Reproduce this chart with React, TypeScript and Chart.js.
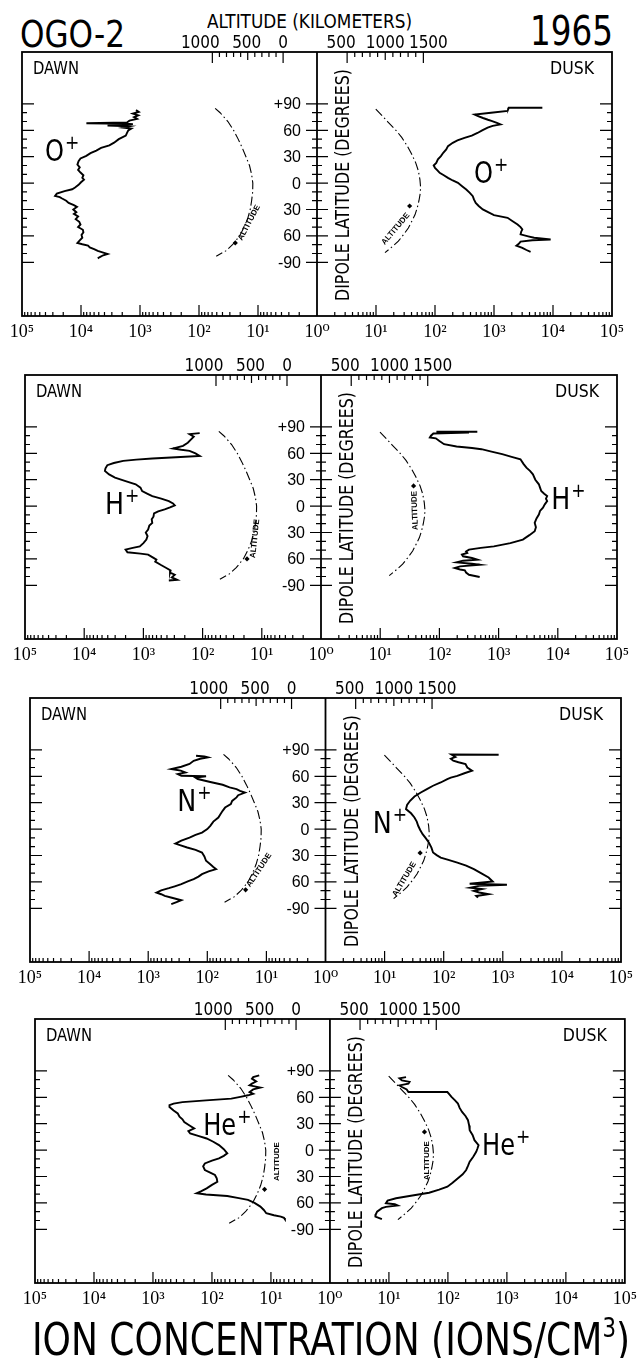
import React, { useEffect, useLayoutEffect, useRef } from "react";
import { Chart, registerables } from "chart.js";

Chart.register(...registerables);

const NARROW = '"Liberation Sans Narrow", "DejaVu Sans Condensed", "Liberation Sans", sans-serif';
const SANS = '"Liberation Sans", "DejaVu Sans", sans-serif';
const SERIF = '"Liberation Serif", "DejaVu Serif", serif';

// ---------- axis ticks / labels ----------
const decadeValues = [1, 10, 100, 1000, 10000, 100000];
const decadeLabels = ["10⁰", "10¹", "10²", "10³", "10⁴", "10⁵"];
const latTickValues = [90, 60, 30, 0, -30, -60, -90];
const latTickLabels = ["+90", "60", "30", "0", "30", "60", "-90"];
const dawnAltTickValues = [1000, 500, 0];
const dawnAltTickLabels = ["1000", "500", "0"];
const duskAltTickValues = [500, 1000, 1500];
const duskAltTickLabels = ["500", "1000", "1500"];

// ---------- O+ ----------
const oDawnLat = [83, 81, 79, 77, 75, 73, 71, 69, 68, 67.5, 67, 66, 65.5, 64.5, 63, 62, 60, 57, 54, 50, 46, 43, 40, 37, 34, 31, 28, 25, 21, 18, 15, 12, 9, 6, 4, 1, -2, -5, -7, -9, -12, -14.5, -16, -17.5, -20, -22.5, -25, -27, -30, -33, -35, -38, -41, -44, -47, -50, -53, -56, -59, -62, -65, -68, -69.5, -71, -73, -75, -77, -79, -80.5, -82, -84, -85.5];
const oDawnConc = [1170, 1050, 1320, 1070, 1260, 1120, 1510, 1660, 8100, 1780, 1320, 2000, 3550, 1510, 1900, 1410, 1580, 1660, 1740, 2290, 2750, 3310, 4570, 5500, 6900, 8130, 10200, 11000, 11500, 10500, 11200, 10200, 9100, 9500, 8900, 10000, 11000, 12600, 14100, 19000, 25700, 27500, 22900, 20900, 17800, 16200, 13200, 11700, 13500, 12000, 13200, 11200, 12300, 10700, 10200, 11200, 9300, 9100, 9800, 9500, 10500, 11500, 9500, 7600, 7100, 6000, 5200, 4200, 3550, 4200, 4800, 5200];
const oDuskLat = [85.6, 85.6, 84, 82, 80, 78, 76.5, 74, 72, 70.5, 68.5, 66.7, 65, 63, 60, 57, 54, 51.5, 48.5, 45.8, 42, 38.3, 34.5, 30.7, 27, 23, 20, 17.4, 14.5, 11.7, 9, 6, 3, 0.3, -3.5, -7.2, -11, -14.8, -18.5, -22.4, -26, -29.9, -33, -36.4, -39.4, -43, -47, -50, -52.6, -55.5, -58.3, -60.5, -62.1, -64, -65, -66.5, -69, -71, -73.5, -76, -78];
const oDuskConc = [6600, 1780, 1740, 1700, 890, 470, 525, 650, 790, 930, 1120, 1290, 950, 780, 630, 525, 420, 316, 240, 200, 166, 155, 138, 126, 112, 105, 95, 100, 110, 120, 141, 166, 200, 245, 288, 339, 389, 437, 457, 490, 550, 646, 794, 1000, 1700, 2040, 2510, 2820, 3020, 2880, 2820, 3800, 4790, 9120, 4470, 2820, 2630, 2400, 3020, 3550, 4170];

// ---------- H+ ----------
const hDawnLat = [83, 81.8, 79, 76.1, 72, 68.5, 65.5, 64, 62.8, 60, 57.1, 55.5, 54.1, 52.8, 51.4, 49, 46.5, 43, 40, 36, 32.4, 28.5, 24.8, 21, 17.1, 14, 11.4, 8.5, 5.7, 3, 0.8, -1.5, -3.8, -6, -8.3, -12, -15, -19, -22, -26.6, -30, -34, -38, -42, -45.7, -47.5, -49.4, -52.5, -54, -55.1, -58, -60.8, -63, -66.6, -70, -73, -75.5, -78, -81, -83.7, -84.5];
const hDawnConc = [112, 166, 141, 155, 178, 214, 316, 229, 166, 132, 112, 282, 708, 1320, 2190, 3160, 4070, 4370, 4470, 3800, 3020, 2000, 1350, 1120, 1050, 850, 708, 500, 372, 316, 295, 355, 437, 562, 661, 676, 724, 708, 794, 832, 912, 851, 891, 1000, 1150, 1510, 2000, 1860, 1120, 832, 708, 603, 631, 513, 417, 347, 355, 295, 331, 269, 372];
const hDuskLat = [84.5, 84.5, 83.5, 82.5, 80, 78, 77, 74, 70.4, 67.8, 66, 64.7, 62, 59, 56, 53.3, 48, 43.8, 40, 36.2, 30, 24.8, 21, 17.1, 14, 11.4, 8.5, 5.7, 2, -1.8, -5.5, -9.5, -14, -19, -24, -28.5, -33, -38, -42, -45.7, -47.5, -49.4, -51.5, -53.2, -55, -57, -59, -60.8, -62, -63.9, -65.5, -66.6, -68.5, -70.3, -72, -73, -75.5, -78, -80.6];
const hDuskConc = [437, 89, 316, 79, 72, 69, 87, 100, 120, 195, 355, 513, 759, 1150, 1660, 2340, 2630, 2950, 3390, 3800, 4170, 4790, 5010, 5250, 5890, 6610, 6310, 6610, 6030, 5620, 5010, 4790, 4370, 4070, 4270, 4070, 3310, 2570, 1580, 832, 501, 316, 282, 295, 240, 251, 355, 437, 251, 195, 355, 479, 224, 182, 224, 269, 282, 316, 479];

// ---------- N+ ----------
const nDawnLat = [83.4, 82.5, 81.5, 80, 77.7, 74, 70.9, 68.3, 66.5, 64.4, 62.5, 60.6, 60, 58.5, 56.9, 53.5, 50.4, 47.5, 45.5, 43.5, 41.6, 38.5, 36, 32, 28.4, 24.5, 20.8, 17, 13.2, 8.5, 3.8, 0, -3.9, -6.5, -9.6, -13, -16.4, -18.5, -20.9, -23.5, -26.6, -31, -36, -40, -43, -45.5, -48, -51.2, -54, -56.9, -59.5, -62.6, -65, -67.1, -69.5, -72.1, -74, -75.9, -78, -80.8, -83, -85.3];
const nDawnConc = [155, 112, 98, 132, 170, 200, 275, 407, 282, 234, 316, 275, 105, 158, 145, 89, 55, 42, 32, 28, 23, 30, 32, 38, 40, 50, 55, 60, 65, 79, 89, 100, 123, 158, 200, 275, 347, 282, 219, 158, 123, 112, 105, 89, 79, 71, 95, 123, 141, 170, 214, 275, 355, 447, 603, 724, 603, 525, 398, 275, 331, 407];
const nDuskLat = [84.5, 84.8, 82, 80, 77.7, 76, 74, 70, 66.3, 63.5, 60.6, 58.5, 56.9, 53, 49.3, 45.5, 41.6, 37, 32.2, 27.5, 22.8, 18, 13.2, 8.5, 3.8, -1, -5.7, -10.5, -15.2, -21, -26.6, -29.5, -32.3, -35, -38, -41.5, -45.5, -50, -55, -59.6, -62, -63.2, -64.5, -66.5, -68, -70.2, -72, -74, -76, -77.8];
const nDuskConc = [851, 135, 158, 132, 145, 178, 234, 251, 302, 224, 170, 132, 115, 89, 66, 52, 41, 32, 27, 24, 23, 28, 32, 35, 37, 40, 44, 50, 56, 62, 66, 76, 89, 120, 170, 240, 324, 427, 575, 676, 275, 1175, 398, 282, 447, 324, 398, 575, 355, 380];

// ---------- He+ ----------
const heDawnLat = [84.9, 83, 81.2, 78, 75.5, 73.6, 71, 69, 66, 64, 62.3, 60.5, 58.5, 56.5, 54.5, 52.9, 51, 49, 45, 41.6, 38, 35, 32, 28, 24.6, 21.5, 18.9, 16, 13.2, 9.5, 5.7, 1, -3.7, -6.5, -9.4, -12, -15.1, -18.5, -22.6, -25.5, -28.3, -32, -35.9, -39.5, -43.4, -46.5, -49, -50.5, -52.1, -54.5, -56.6, -60, -64.2, -68, -71.7, -74, -75.5, -77, -78.5];
const heDawnConc = [15.8, 20, 21, 17.8, 21, 23, 15.1, 20, 23, 20, 24.5, 33, 47, 126, 316, 447, 525, 525, 447, 380, 355, 316, 295, 240, 200, 251, 234, 166, 123, 95, 76, 63, 55, 63, 76, 100, 132, 141, 132, 107, 89, 83, 81, 100, 123, 151, 182, 126, 55, 35, 24.5, 19, 15.1, 13.2, 12, 8.9, 6.8, 6.0, 5.8];
const heDuskLat = [83, 81.5, 79.3, 77.5, 75.5, 73.5, 71.7, 69, 66, 66, 63, 60.4, 56.5, 52.9, 48, 43.4, 38.5, 34, 28, 22.6, 17, 11.3, 5.7, 1.5, -1.9, -7.5, -13.2, -18, -22.6, -27.5, -32, -37, -41.6, -45, -48.4, -51.5, -54.7, -57.4, -60.4, -61.5, -63, -64.5, -66, -69.9, -73, -75.5, -78.5];
const heDuskConc = [19.5, 15.1, 16.6, 22.4, 21.4, 15.1, 16.6, 20, 21.4, 98, 107, 115, 132, 148, 158, 174, 200, 219, 229, 234, 263, 282, 331, 316, 302, 269, 234, 219, 204, 178, 148, 120, 98, 71, 48, 25, 13.2, 9.5, 8.9, 12.6, 14.1, 8.9, 7.6, 6.3, 6.0, 5.9, 7.6];

// ---------- satellite altitude (km) along the pass ----------
const dawnAltLat = [85, 80, 70, 60, 50, 40, 30, 20, 10, 0, -10, -20, -30, -40, -50, -60, -70, -77, -83];
const dawnAltKm = [960, 890, 780, 700, 635, 577, 525, 475, 445, 428, 430, 445, 465, 500, 550, 615, 715, 810, 945];
const duskAltLat = [84, 77, 70, 60, 52, 42, 33, 23, 14, 4, -5, -12, -20, -28, -36, -43, -51, -58, -66, -72, -79];
const duskAltKm = [876, 955, 1030, 1140, 1216, 1290, 1346, 1400, 1434, 1455, 1464, 1458, 1442, 1420, 1390, 1350, 1303, 1245, 1172, 1095, 997];

// ---------- layout ----------
const PAD_TOP = 44;
const BOX_H = 264;
const BOTTOM_H = 34;
const CANVAS_W = 642;
const CANVAS_H = PAD_TOP + BOX_H + BOTTOM_H;

type Tag = { alt: number; lat: number; angle: number; dAlt: number; dLat: number };
type PanelSpec = {
  ion: string;
  left: number;
  right: number;
  top: number;
  dawnLat: number[];
  dawnConc: number[];
  duskLat: number[];
  duskConc: number[];
  dawnIon: number[];
  duskIon: number[];
  dawnTag: Tag;
  duskTag: Tag;
};

const panels: PanelSpec[] = [
  {
    ion: "O", left: 22, right: 612, top: 52,
    dawnLat: oDawnLat, dawnConc: oDawnConc, duskLat: oDuskLat, duskConc: oDuskConc,
    dawnIon: [40700, 25], duskIon: [457, 0],
    dawnTag: { alt: 479, lat: -45, angle: -62, dAlt: 676, dLat: -68 },
    duskTag: { alt: 1137, lat: -52, angle: -50, dAlt: 1320, dLat: -26 },
  },
  {
    ion: "H", left: 25, right: 617, top: 375,
    dawnLat: hDawnLat, dawnConc: hDawnConc, duskLat: hDuskLat, duskConc: hDuskConc,
    dawnIon: [4470, -9.4], duskIon: [7760, -3.8],
    dawnTag: { alt: 451, lat: -37, angle: -84, dAlt: 563, dLat: -60 },
    duskTag: { alt: 1333, lat: -5, angle: -92, dAlt: 1315, dLat: 23 },
  },
  {
    ion: "N", left: 30, right: 621, top: 698,
    dawnLat: nDawnLat, dawnConc: nDawnConc, duskLat: nDuskLat, duskConc: nDuskConc,
    dawnIon: [324, 20.8], duskIon: [6.3, -4.2],
    dawnTag: { alt: 458, lat: -46.5, angle: -56, dAlt: 648, dLat: -69 },
    duskTag: { alt: 1137, lat: -57, angle: -59, dAlt: 1344, dLat: -27 },
  },
  {
    ion: "He", left: 35, right: 626, top: 1019,
    dawnLat: heDawnLat, dawnConc: heDawnConc, duskLat: heDuskLat, duskConc: heDuskConc,
    dawnIon: [141, 17], duskIon: [380, -5.7],
    dawnTag: { alt: 268, lat: -13, angle: -90, dAlt: 445, dLat: -44.5 },
    duskTag: { alt: 1373, lat: -12, angle: -90, dAlt: 1345, dLat: 20.7 },
  },
];

function zip(xs: number[], ys: number[]) {
  const n = Math.min(xs.length, ys.length);
  const out: { x: number; y: number }[] = [];
  for (let i = 0; i < n; i++) out.push({ x: xs[i], y: ys[i] });
  return out;
}

function drawIon(ctx: CanvasRenderingContext2D, name: string, x: number, y: number) {
  ctx.font = `30px ${NARROW}`;
  ctx.textAlign = "left";
  ctx.textBaseline = "alphabetic";
  const target = name.length === 1 ? 19 : 33;
  ctx.fillText(name, x, y, target);
  const w = Math.min(ctx.measureText(name).width, target);
  ctx.font = `19px ${NARROW}`;
  ctx.fillText("+", x + w + 1, y - 12);
}

function drawTag(ctx: CanvasRenderingContext2D, xs: any, ys: any, t: Tag) {
  const x = xs.getPixelForValue(t.alt);
  const y = ys.getPixelForValue(t.lat);
  ctx.save();
  ctx.translate(x, y);
  ctx.rotate((t.angle * Math.PI) / 180);
  ctx.font = `bold 8px ${SANS}`;
  ctx.textAlign = "center";
  ctx.textBaseline = "middle";
  ctx.fillText("ALTITUDE", 0, 0);
  ctx.restore();
  const dx = xs.getPixelForValue(t.dAlt);
  const dy = ys.getPixelForValue(t.dLat);
  const r = 2.6;
  ctx.beginPath();
  ctx.moveTo(dx, dy - r);
  ctx.lineTo(dx + r, dy);
  ctx.lineTo(dx, dy + r);
  ctx.lineTo(dx - r, dy);
  ctx.closePath();
  ctx.fill();
}

function makeDecor(p: PanelSpec) {
  return {
    id: "decor",
    afterDraw(chart: any) {
      const ctx: CanvasRenderingContext2D = chart.ctx;
      const ca = chart.chartArea;
      const xd = chart.scales.xDawn;
      const xu = chart.scales.xDusk;
      const ys = chart.scales.y;
      const ad = chart.scales.altDawn;
      const au = chart.scales.altDusk;
      const cx = xd.getPixelForValue(1);
      ctx.save();
      ctx.strokeStyle = "#000";
      ctx.fillStyle = "#000";
      ctx.lineWidth = 1.8;
      ctx.strokeRect(ca.left, ca.top, ca.right - ca.left, ca.bottom - ca.top);
      ctx.beginPath();
      ctx.moveTo(cx, ca.top);
      ctx.lineTo(cx, ca.bottom);
      ctx.stroke();

      ctx.lineWidth = 1.2;
      ctx.beginPath();
      // concentration ticks (inside, bottom)
      for (const sc of [xd, xu]) {
        for (let e = 0; e < 5; e++) {
          for (let m = 1; m < 10; m++) {
            const v = m * Math.pow(10, e);
            if (v <= 1) continue;
            const px = sc.getPixelForValue(v);
            const len = m === 1 ? 11 : 4;
            ctx.moveTo(px, ca.bottom);
            ctx.lineTo(px, ca.bottom - len);
          }
        }
      }
      // latitude ticks
      for (let lat = -90; lat <= 90; lat += 10) {
        const py = ys.getPixelForValue(lat);
        const major = lat % 30 === 0;
        const c = major ? 11 : 5;
        const s = major ? 12 : 5;
        ctx.moveTo(cx - c, py);
        ctx.lineTo(cx + c, py);
        ctx.moveTo(ca.left, py);
        ctx.lineTo(ca.left + s, py);
        ctx.moveTo(ca.right, py);
        ctx.lineTo(ca.right - s, py);
      }
      // altitude ticks (inside, top)
      for (let a = 0; a <= 1000; a += 100) {
        const px = ad.getPixelForValue(a);
        const len = a % 500 === 0 ? (a === 500 ? 8 : 11) : 5;
        ctx.moveTo(px, ca.top);
        ctx.lineTo(px, ca.top + len);
      }
      for (let a = 500; a <= 1500; a += 100) {
        const px = au.getPixelForValue(a);
        const len = a % 500 === 0 ? (a === 1000 ? 8 : 11) : 5;
        ctx.moveTo(px, ca.top);
        ctx.lineTo(px, ca.top + len);
      }
      ctx.stroke();

      // latitude labels
      ctx.font = `16px ${SANS}`;
      ctx.textAlign = "right";
      ctx.textBaseline = "middle";
      latTickValues.forEach((lat, i) => {
        ctx.fillText(latTickLabels[i], cx - 16, ys.getPixelForValue(lat) + 1);
      });

      // altitude tick labels
      ctx.font = `17px ${NARROW}`;
      ctx.textAlign = "center";
      ctx.textBaseline = "alphabetic";
      const dawnDx = [-12, -1, 0];
      const duskDx = [-6, 0, 5];
      dawnAltTickValues.forEach((a, i) => {
        ctx.fillText(dawnAltTickLabels[i], ad.getPixelForValue(a) + dawnDx[i], ca.top - 4);
      });
      duskAltTickValues.forEach((a, i) => {
        ctx.fillText(duskAltTickLabels[i], au.getPixelForValue(a) + duskDx[i], ca.top - 4);
      });

      // DAWN / DUSK
      ctx.font = `18px ${NARROW}`;
      ctx.textAlign = "left";
      ctx.fillText("DAWN", ca.left + 11, ca.top + 22, 46);
      ctx.textAlign = "right";
      ctx.fillText("DUSK", ca.right - 18, ca.top + 22, 44);

      // dipole latitude title
      ctx.save();
      ctx.translate(cx + 32, ca.bottom - 15);
      ctx.rotate(-Math.PI / 2);
      ctx.font = `19px ${NARROW}`;
      ctx.textAlign = "left";
      ctx.textBaseline = "alphabetic";
      ctx.fillText("DIPOLE LATITUDE (DEGREES)", 0, 0, 232);
      ctx.restore();

      // ion labels
      drawIon(ctx, p.ion, xd.getPixelForValue(p.dawnIon[0]), ys.getPixelForValue(p.dawnIon[1]));
      drawIon(ctx, p.ion, xu.getPixelForValue(p.duskIon[0]), ys.getPixelForValue(p.duskIon[1]));

      // altitude curve tags
      drawTag(ctx, ad, ys, p.dawnTag);
      drawTag(ctx, au, ys, p.duskTag);
      ctx.restore();
    },
  };
}

function logAxis(reverse: boolean, weight: number, hideZero: boolean) {
  return {
    type: "logarithmic",
    position: "bottom",
    stack: "bottomStack",
    stackWeight: 1,
    weight,
    reverse,
    min: 1,
    max: 100000,
    grid: { display: false, drawTicks: false },
    border: { display: false },
    afterBuildTicks: (s: any) => {
      s.ticks = decadeValues.map((v) => ({ value: v }));
    },
    afterFit: (s: any) => {
      s.height = BOTTOM_H;
    },
    ticks: {
      autoSkip: false,
      maxRotation: 0,
      minRotation: 0,
      padding: 5,
      color: "#000",
      font: { family: SERIF, size: 18 },
      callback: (v: any) => {
        const n = Number(v);
        if (hideZero && n === 1) return "";
        const i = decadeValues.indexOf(n);
        return i >= 0 ? decadeLabels[i] : "";
      },
    },
  };
}

function altAxis(reverse: boolean, weight: number, min: number, max: number) {
  return {
    type: "linear",
    position: "top",
    stack: "topStack",
    stackWeight: 1,
    weight,
    reverse,
    min,
    max,
    grid: { display: false, drawTicks: false },
    border: { display: false },
    ticks: { display: false },
    afterFit: (s: any) => {
      s.height = 0;
    },
  };
}

function buildConfig(p: PanelSpec): any {
  const curve = (data: any, xAxisID: string) => ({
    data,
    xAxisID,
    yAxisID: "y",
    showLine: true,
    borderColor: "#000",
    borderWidth: 1.9,
    pointRadius: 0,
    fill: false,
    tension: 0,
  });
  const arc = (data: any, xAxisID: string) => ({
    ...curve(data, xAxisID),
    borderWidth: 1.1,
    borderDash: [9, 3, 1.5, 3],
  });
  return {
    type: "scatter",
    data: {
      datasets: [
        curve(zip(p.dawnConc, p.dawnLat), "xDawn"),
        curve(zip(p.duskConc, p.duskLat), "xDusk"),
        arc(zip(dawnAltKm, dawnAltLat), "altDawn"),
        arc(zip(duskAltKm, duskAltLat), "altDusk"),
      ],
    },
    options: {
      responsive: false,
      animation: false,
      events: [],
      layout: { padding: { left: p.left, right: CANVAS_W - p.right, top: PAD_TOP, bottom: 0 } },
      plugins: { legend: { display: false }, tooltip: { enabled: false } },
      scales: {
        xDawn: logAxis(true, 0, false),
        xDusk: logAxis(false, 1, true),
        altDawn: altAxis(true, 1, -479, 3690),
        altDusk: altAxis(false, 0, 105, 3974),
        y: { type: "linear", min: -151, max: 149, display: false },
      },
    },
    plugins: [makeDecor(p)],
  };
}

function Panel({ p }: { p: PanelSpec }) {
  const ref = useRef<HTMLCanvasElement | null>(null);
  useEffect(() => {
    if (!ref.current) return;
    const chart = new Chart(ref.current, buildConfig(p));
    return () => chart.destroy();
  }, [p]);
  return (
    <canvas
      ref={ref}
      width={CANVAS_W}
      height={CANVAS_H}
      style={{ position: "absolute", left: 0, top: p.top - PAD_TOP, width: CANVAS_W, height: CANVAS_H }}
    />
  );
}

function FitText({ left, top, width, size, children }: { left: number; top: number; width: number; size: number; children: any }) {
  const ref = useRef<HTMLSpanElement | null>(null);
  useLayoutEffect(() => {
    const el = ref.current;
    if (!el) return;
    el.style.transform = "none";
    const w = el.getBoundingClientRect().width;
    if (w > 0) el.style.transform = `scaleX(${width / w})`;
  }, [width]);
  return (
    <span
      ref={ref}
      style={{
        position: "absolute",
        left,
        top,
        display: "inline-block",
        whiteSpace: "nowrap",
        transformOrigin: "left top",
        font: `${size}px/${size}px ${NARROW}`,
        color: "#000",
      }}
    >
      {children}
    </span>
  );
}

export default function App() {
  return (
    <div
      style={{
        position: "absolute",
        left: 0,
        top: 0,
        width: 642,
        height: 1358,
        background: "#fff",
        color: "#000",
        overflow: "hidden",
      }}
    >
      <FitText left={20} top={15} width={105} size={38}>OGO-2</FitText>
      <FitText left={530} top={11} width={83} size={40}>1965</FitText>
      <FitText left={207} top={11} width={205} size={20}>ALTITUDE (KILOMETERS)</FitText>
      {panels.map((p, i) => (
        <Panel key={i} p={p} />
      ))}
      <FitText left={32} top={1318} width={598} size={44}>
        ION CONCENTRATION (IONS/CM
        <span style={{ fontSize: 26, position: "relative", top: -18 }}>3</span>)
      </FitText>
    </div>
  );
}
